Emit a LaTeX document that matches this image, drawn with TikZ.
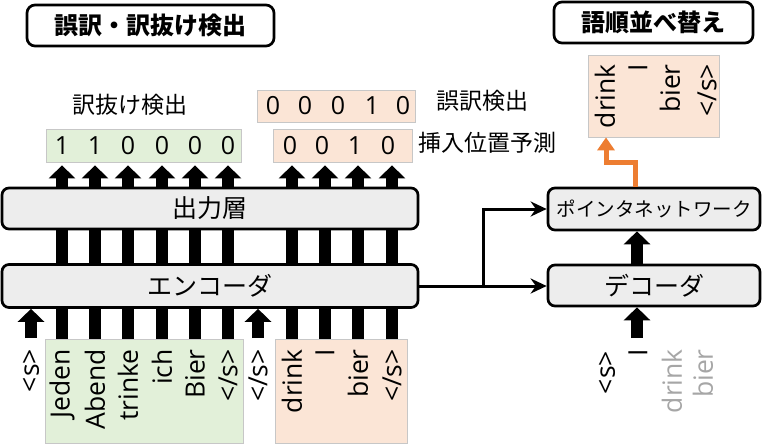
\documentclass[tikz,border=0pt]{standalone}
\usepackage{fontspec}
\setmainfont{Open Sans}
\newfontfamily\jp{Noto Sans CJK JP}
\usetikzlibrary{arrows.meta,calc}
\definecolor{boxgray}{HTML}{EDEDED}
\definecolor{lgreen}{HTML}{E2F0D9}
\definecolor{lorange}{HTML}{FBE5D6}
\definecolor{orangeA}{HTML}{ED7D31}
\definecolor{tokgray}{HTML}{A6A6A6}
\tikzset{
  layer/.style={draw=black, line width=2.7pt, fill=boxgray, rounded corners=7pt, inner sep=0pt, font=\jp\fontsize{25}{30}\selectfont},
  titlebox/.style={draw=black, line width=2.7pt, fill=white, rounded corners=8pt, inner sep=0pt, font=\jp\bfseries\fontsize{24}{28}\selectfont},
  flatbox/.style={draw=black!22, line width=0.8pt, inner sep=0pt},
  tok/.style={rotate=90, anchor=east, inner sep=0pt, font=\fontsize{26.5}{30}\selectfont},
  digit/.style={inner sep=0pt, font=\fontsize{25}{30}\selectfont},
  lbl/.style={inner sep=0pt, font=\jp\fontsize{23}{28}\selectfont},
  bar/.style={line width=12pt},
  blockarrow/.style={line width=12pt, -{Triangle[width=26pt,length=13pt]}},
  conn/.style={line width=3pt, -{Stealth[length=16pt,width=15pt]}},
  orangearrow/.style={draw=orangeA, line width=5pt, -{Triangle[width=17pt,length=13pt]}},
}
\begin{document}
\begin{tikzpicture}[x=1pt, y=-1pt]
\useasboundingbox (0,0) rectangle (768,445);

% title boxes
\node[titlebox, minimum width=247pt, minimum height=41pt] (t1) at (150.5,25.5) {誤訳・訳抜け検出};
\node[titlebox, minimum width=199pt, minimum height=41pt] (t2) at (653.5,22.5) {語順並べ替え};

% column coordinates
\foreach \i/\x in {1/62, 2/95, 3/128, 4/162, 5/195, 6/228, 7/292, 8/325, 9/358, 10/392}
  \coordinate (c\i) at (\x,0);

% layers
\node[layer, minimum width=416pt, minimum height=41pt] (out) at (210,208.5) {出力層};
\node[layer, minimum width=416pt, minimum height=43pt] (enc) at (210,286) {エンコーダ};
\node[layer, minimum width=212pt, minimum height=42pt, font=\jp\fontsize{19.5}{24}\selectfont] (ptr) at (654,209) {ポインタネットワーク};
\node[layer, minimum width=212pt, minimum height=41pt] (dec) at (654,285.5) {デコーダ};

% top result boxes
\node[flatbox, fill=lgreen, minimum width=195pt, minimum height=33pt] (gtop) at (143.5,145.5) {};
\node[flatbox, fill=lorange, minimum width=158pt, minimum height=32pt] (otop1) at (336,106) {};
\node[flatbox, fill=lorange, minimum width=139pt, minimum height=33pt] (otop2) at (342.5,145.5) {};
\node[flatbox, fill=lorange, minimum width=131pt, minimum height=82pt] (outR) at (653.5,96) {};

% bottom input boxes
\node[flatbox, fill=lgreen, minimum width=198pt, minimum height=104pt] (gbot) at (144,391) {};
\node[flatbox, fill=lorange, minimum width=132pt, minimum height=104pt] (obot) at (341,391) {};

% labels
\node[lbl] (l1) at (130,105) {訳抜け検出};
\node[lbl] (l2) at (482,100.5) {誤訳検出};
\node[lbl] (l3) at (487,143) {挿入位置予測};

% digits
\foreach \i/\d in {1/1, 2/1, 3/0, 4/0, 5/0, 6/0}
  \node[digit] (gd\i) at (c\i |- gtop) {\d};
\foreach \i/\x/\d in {1/273/0, 2/305/0, 3/338/0, 4/372/1, 5/403/0}
  \node[digit] (oa\i) at (\x,106) {\d};
\foreach \i/\x/\d in {1/290/0, 2/322/0, 3/355/1, 4/388/0}
  \node[digit] (ob\i) at (\x,145.5) {\d};

% input tokens
\node[tok] (s0) at (31,349) {<s>};
\foreach \i/\w in {1/Jeden, 2/Abend, 3/trinke, 4/ich, 5/Bier, 6/{</s>}}
  \node[tok] (w\i) at ($(c\i)+(0,349)$) {\w};
\node[tok] (s1) at (258,349) {</s>};
\foreach \i/\w in {7/drink, 8/I, 9/bier, 10/{</s>}}
  \node[tok] (w\i) at ($(c\i)+(0,349)$) {\w};

% pointer output tokens
\node[tok] (p1) at (605,64) {drink};
\node[tok] (p2) at (638,64) {I};
\node[tok] (p3) at (670,64) {bier};
\node[tok] (p4) at (707,64) {</s>};

% decoder input tokens
\node[tok] (d1) at (607,351) {<s>};
\node[tok] (d2) at (638,349) {I};
\node[tok, text=tokgray] (d3) at (672,349) {drink};
\node[tok, text=tokgray] (d4) at (703,349) {bier};

% bars and block arrows
\foreach \i in {1,...,10} {
  \draw[bar] (gbot.north -| c\i) -- (enc.south -| c\i);
  \draw[bar] (enc.north -| c\i) -- (out.south -| c\i);
}
\foreach \i in {1,...,6}
  \draw[blockarrow] (out.north -| c\i) -- ([yshift=-3pt]gtop.south -| c\i);
\foreach \i in {7,...,10}
  \draw[blockarrow] (out.north -| c\i) -- ([yshift=-3pt]otop2.south -| c\i);

\coordinate (sa) at (31,338);
\coordinate (sb) at (258,338);
\coordinate (da) at (637,338);
\draw[blockarrow] (sa) -- (enc.south -| sa);
\draw[blockarrow] (sb) -- (enc.south -| sb);
\draw[blockarrow] (da) -- (dec.south -| da);
\draw[blockarrow] (dec.north -| da) -- (ptr.south -| da);

% encoder connectors
\coordinate (j) at (483,286);
\draw[conn] (enc.east) -- (dec.west |- enc.east);
\draw[conn] (j) |- (ptr.west);

% orange pointer arrow
\coordinate (ob) at (635,0);
\coordinate (ot) at (606,162);
\draw[orangearrow] (ptr.north -| ob) -- (ob |- ot) -- (ot) -- (outR.south -| ot);
\end{tikzpicture}
\end{document}
